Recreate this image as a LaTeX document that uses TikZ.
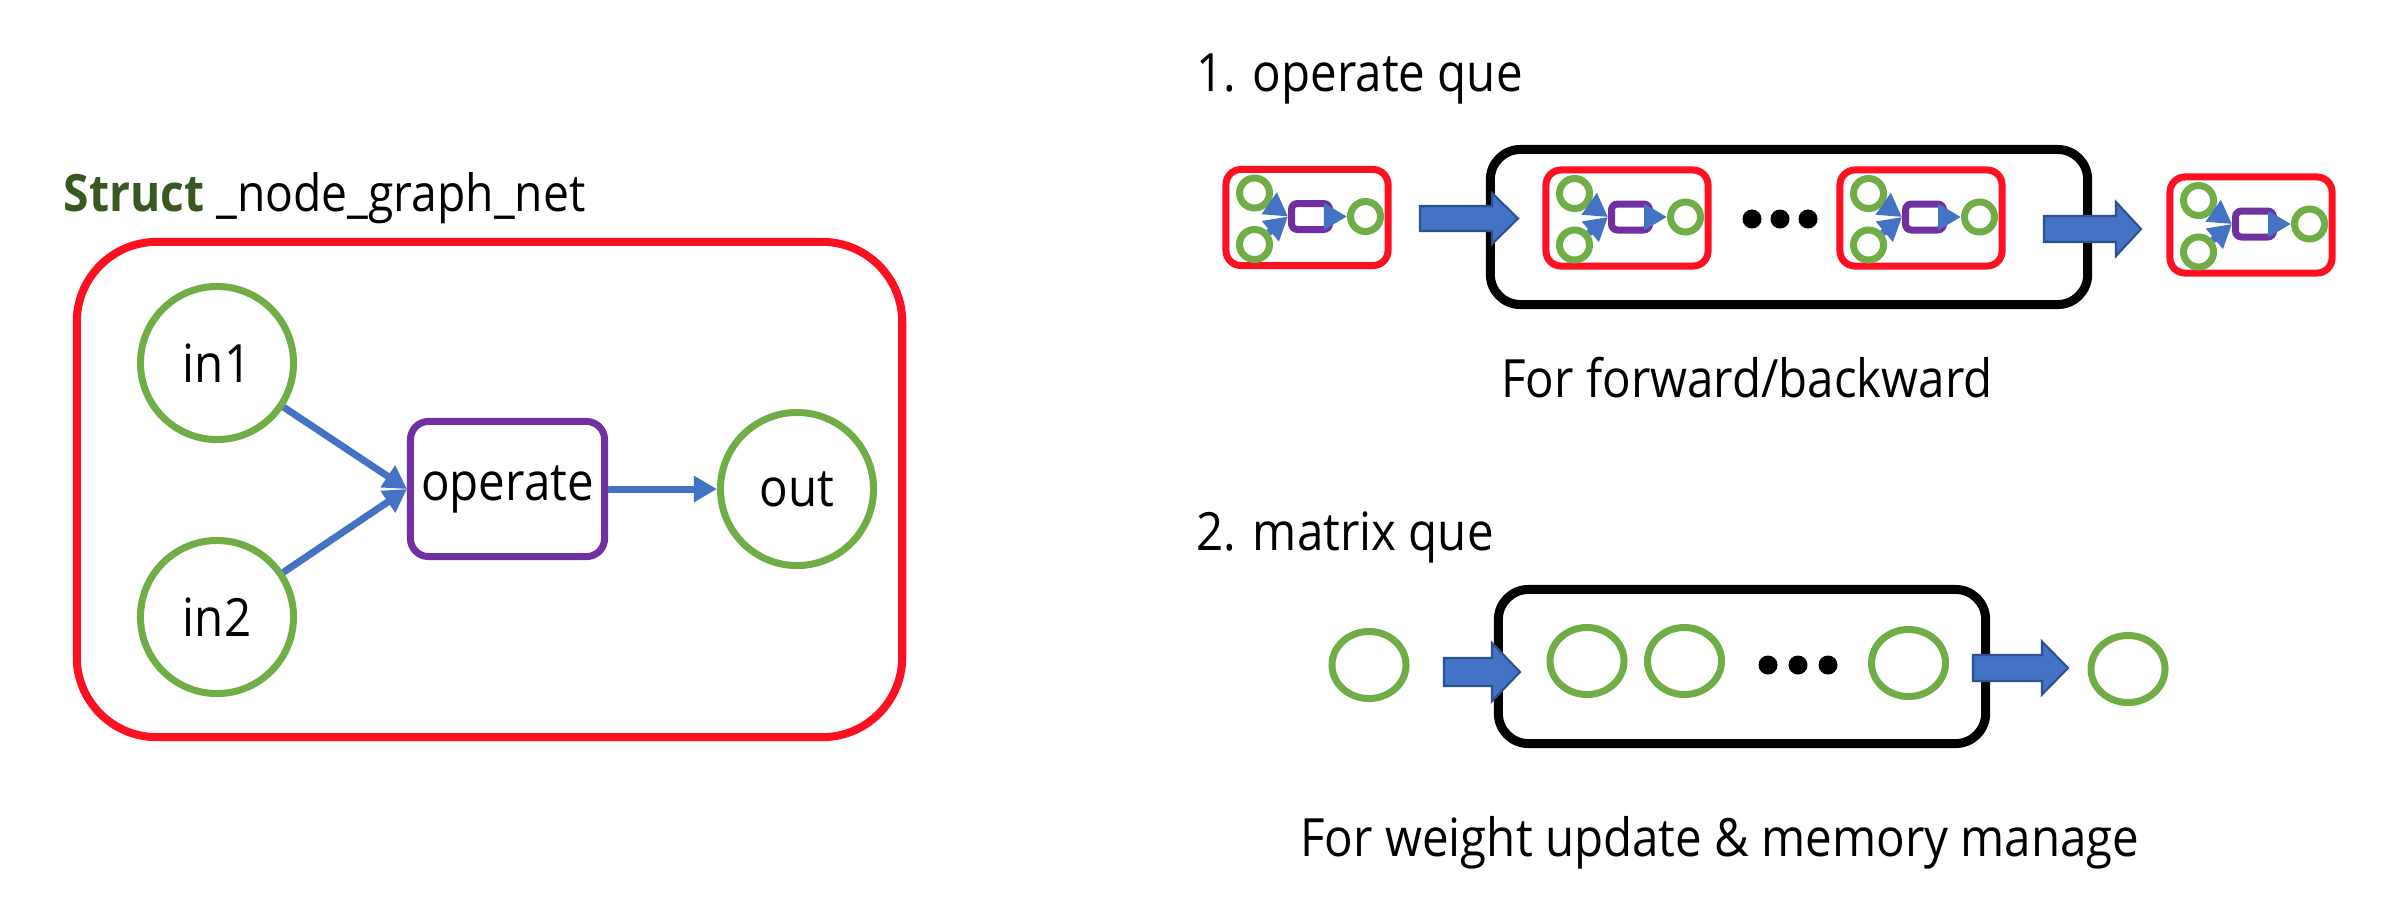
\documentclass[tikz,border=0pt]{standalone}
\usepackage{fontspec}
\setmainfont{Open Sans}[FakeStretch=0.9]
\usetikzlibrary{arrows.meta,shapes.geometric}
\definecolor{gr}{HTML}{70AD47}
\definecolor{pu}{HTML}{7030A0}
\definecolor{bl}{HTML}{4472C4}
\definecolor{bld}{HTML}{2F528F}
\definecolor{rd}{HTML}{FF1020}
\definecolor{dg}{HTML}{385723}
\begin{document}
\begin{tikzpicture}[x=0.01cm,y=-0.01cm,
  txt/.style={inner sep=0pt,font=\fontsize{15}{18}\selectfont},
  bigred/.style={draw=rd,line width=2.28pt,rounded corners=0.8cm,minimum width=8.25cm,minimum height=4.95cm,inner sep=0pt},
  ring/.style={circle,draw=gr,line width=1.99pt,minimum size=1.53cm,inner sep=0pt,font=\fontsize{15}{18}\selectfont},
  opbox/.style={rectangle,draw=pu,line width=1.99pt,rounded corners=0.18cm,minimum width=1.94cm,minimum height=1.35cm,inner sep=0pt,font=\fontsize{15}{18}\selectfont},
  conn/.style={draw=bl,line width=1.99pt,-{Triangle[length=0.23cm,width=0.25cm]}},
  smallred/.style={rectangle,draw=rd,line width=1.99pt,rounded corners=0.15cm,minimum width=1.62cm,minimum height=0.96cm,inner sep=0pt},
  smallring/.style={circle,draw=gr,line width=1.99pt,minimum size=0.30cm,inner sep=0pt},
  smallop/.style={rectangle,draw=pu,line width=1.99pt,rounded corners=0.06cm,minimum width=0.38cm,minimum height=0.26cm,inner sep=0pt},
  blackbox/.style={rectangle,draw=black,line width=2.56pt,rounded corners=0.3cm,inner sep=0pt},
  ringS/.style={ellipse,draw=gr,line width=1.99pt,minimum width=0.74cm,minimum height=0.67cm,inner sep=0pt},
  dotn/.style={circle,fill=black,minimum size=0.19cm,inner sep=0pt},
  blk/.style={fill=bl,draw=bld,line width=0.6pt,line join=miter},
  pics/glyph/.style={code={
    \node[smallred] (-box) at (0,0) {};
    \node[smallring] (-a) at (-52.5,-24.5) {};
    \node[smallring] (-b) at (-52.5,27) {};
    \node[smallop] (-op) at (3.5,-1) {};
    \node[smallring] (-o) at (58.5,-1) {};
    \draw[conn] (-a) -- (-op.west);
    \draw[conn] (-b) -- (-op.west);
    \draw[conn] (-op) -- (-o);
  }},
  pics/blockarrow/.style n args={4}{code={
    \filldraw[blk] (0,-#3) -- ({#1-#2},-#3) -- ({#1-#2},-#4) -- (#1,0) -- ({#1-#2},#4) -- ({#1-#2},#3) -- (0,#3) -- cycle;
  }}
]
\fill[white] (0,0) rectangle (2382,908);
\useasboundingbox (0,0) rectangle (2382,908);

% ---------- left: struct ----------
\node[txt,anchor=base west,font=\fontsize{14.6}{18}\selectfont] (title) at (63,211) {\textcolor{dg}{\textbf{Struct}} \_node\_graph\_net};
\node[bigred] (frame) at (489.5,489.5) {};
\node[ring] (in1) at (217,363) {in1};
\node[ring] (in2) at (217,617) {in2};
\node[opbox] (op) at (507.5,489) {operate};
\node[ring] (out) at (797,489) {out};
\draw[conn] (in1) -- (op.west);
\draw[conn] (in2) -- (op.west);
\draw[conn] (op) -- (out);

% ---------- right top: operate que ----------
\node[txt,anchor=base west] (h1) at (1196,91) {1. operate que};
\node[blackbox,minimum width=5.97cm,minimum height=1.55cm] (q1) at (1789,227) {};
\pic (g1) at (1307,217.5) {glyph};
\pic (g2) at (1627,218) {glyph};
\pic (g3) at (1921,218) {glyph};
\pic (g4) at (2251,225) {glyph};
\node[dotn] (t1) at (1752,219) {};
\node[dotn] (t2) at (1780,219) {};
\node[dotn] (t3) at (1808,219) {};
\pic at (1420,218.5) {blockarrow={98}{26}{12.5}{25.5}};
\pic at (2044,229) {blockarrow={97}{25}{13}{27}};
\node[txt,anchor=base] (c1) at (1747,397) {For forward/backward};

% ---------- right bottom: matrix que ----------
\node[txt,anchor=base west] (h2) at (1196,550) {2. matrix que};
\node[blackbox,minimum width=4.87cm,minimum height=1.54cm] (q2) at (1742,666.5) {};
\node[ringS] (m0) at (1369,665) {};
\node[ringS] (m1) at (1587,661) {};
\node[ringS] (m2) at (1684.5,661) {};
\node[ringS] (m3) at (1908.5,663) {};
\node[ringS] (m4) at (2128,669) {};
\node[dotn] (b1) at (1768,665) {};
\node[dotn] (b2) at (1798,665) {};
\node[dotn] (b3) at (1828,665) {};
\pic at (1444,672) {blockarrow={76}{28}{14}{29}};
\pic at (1973,668) {blockarrow={95}{26}{13}{26.5}};
\node[txt,anchor=base] (c2) at (1720,856) {For weight update \& memory manage};
\end{tikzpicture}
\end{document}
